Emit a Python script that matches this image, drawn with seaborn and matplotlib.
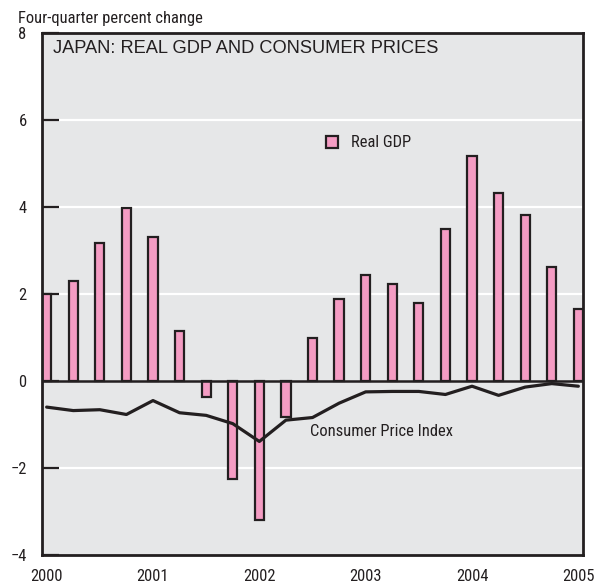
import numpy as np
import pandas as pd
import matplotlib
matplotlib.use("Agg")
import matplotlib.pyplot as plt
import seaborn as sns

# quarterly data, 2000Q1 .. 2005Q1
quarters = [f"{y}Q{q}" for y in range(2000, 2005) for q in range(1, 5)] + ["2005Q1"]
real_gdp = [2.0, 2.31, 3.17, 3.98, 3.30, 1.15, -0.37, -2.25, -3.19, -0.83, 1.0,
            1.88, 2.44, 2.23, 1.79, 3.50, 5.17, 4.33, 3.82, 2.63, 1.65]
cpi = [-0.60, -0.68, -0.66, -0.77, -0.45, -0.73, -0.79, -0.98, -1.39, -0.90, -0.84,
       -0.51, -0.25, -0.24, -0.24, -0.31, -0.12, -0.33, -0.14, -0.06, -0.12]
year_labels = ["2000", "2001", "2002", "2003", "2004", "2005"]
y_ticks = [-4, -2, 0, 2, 4, 6, 8]
y_ticklabels = ["\u22124", "\u22122", "0", "2", "4", "6", "8"]

df = pd.DataFrame({"quarter": quarters, "gdp": real_gdp, "cpi": cpi})
df["pos"] = np.arange(len(df))

sns.set_theme(style="white")
narrow = ["Roboto Condensed", "Liberation Sans Narrow", "Liberation Sans", "DejaVu Sans"]
regular = ["Liberation Sans", "DejaVu Sans"]
plt.rcParams["font.family"] = narrow

pink = "#f49cc3"
dark = "#231f20"
bg = "#e6e7e8"

fig = plt.figure(figsize=(6.06, 5.86), dpi=100)


def fit_size(text, family, target_px, ref=20):
    '''font size that makes text about target_px wide'''
    t = fig.text(0, 0, text, fontsize=ref, family=family)
    w = t.get_window_extent(renderer=fig.canvas.get_renderer()).width
    t.remove()
    return ref * target_px / w


fs = fit_size("Four-quarter percent change", narrow, 184)
fs_title = fit_size("JAPAN: REAL GDP AND CONSUMER PRICES", regular, 386)

ax = fig.add_axes([42 / 606, 1 - 555 / 586, (583 - 42) / 606, (555 - 33) / 586])
ax.set_facecolor(bg)

for g in [-2, 2, 4, 6]:
    ax.axhline(g, color="white", lw=1.6, zorder=0.5)

sns.barplot(data=df, x="pos", y="gdp", ax=ax, color=pink, saturation=1,
            width=0.35, edgecolor=dark, linewidth=1.6, zorder=2)
ax.axhline(0, color=dark, lw=1.8, zorder=3)
sns.lineplot(data=df, x="pos", y="cpi", ax=ax, color=dark, lw=2.3, zorder=4)

ax.set_xlim(-0.175, 20.175)
ax.set_ylim(-4, 8)
ax.set_xticks(np.arange(0, 21, 4))
ax.set_xticklabels(year_labels, fontsize=fs, color=dark)
ax.set_yticks(y_ticks)
ax.set_yticklabels(y_ticklabels, fontsize=fs, color=dark)
ax.tick_params(axis="x", length=0, pad=10)
ax.tick_params(axis="y", direction="in", length=12, width=1.6, color=dark, pad=11, left=True)
ax.set_xlabel("")
ax.set_ylabel("")
for s in ax.spines.values():
    s.set_color(dark)
    s.set_linewidth(2)
    s.set_visible(True)

ax.text(0.02, 0.962, "JAPAN: REAL GDP AND CONSUMER PRICES", transform=ax.transAxes,
        ha="left", va="baseline", fontsize=fs_title, family=regular, color=dark)
fig.text(18 / 606, 1 - 23 / 586, "Four-quarter percent change", ha="left", va="baseline",
         fontsize=fs, color=dark)

# legend and line label
ax.plot([10.74], [5.49], marker="s", ms=8, mfc=pink, mec=dark, mew=1.6, ls="none")
ax.text(11.45, 5.49, "Real GDP", ha="left", va="center", fontsize=fs, color=dark)
ax.text(9.91, -1.17, "Consumer Price Index", ha="left", va="center", fontsize=fs, color=dark)

fig.savefig("out.png", dpi=100, facecolor="white")
